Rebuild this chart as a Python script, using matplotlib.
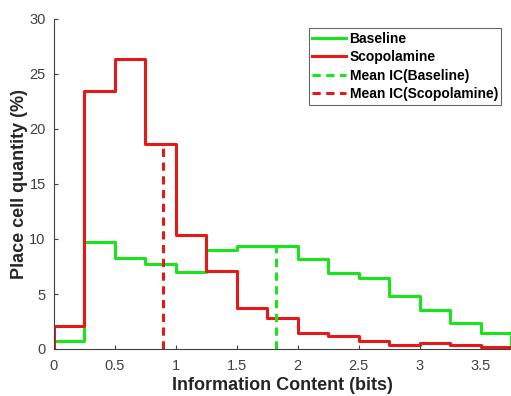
import numpy as np
import matplotlib.pyplot as plt

# bin edges for information content (bits), 0.25 wide
bin_edges = [0, 0.25, 0.5, 0.75, 1.0, 1.25, 1.5, 1.75, 2.0, 2.25, 2.5, 2.75, 3.0, 3.25, 3.5, 3.75]

# percentage of place cells per bin
baseline = [0.73, 9.7, 8.3, 7.76, 6.97, 8.97, 9.33, 9.33, 8.2, 6.88, 6.5, 4.8, 3.55, 2.33, 1.42]
scopolamine = [2.1, 23.45, 26.4, 18.6, 10.36, 7.12, 3.76, 2.85, 1.42, 1.18, 0.76, 0.36, 0.55, 0.33, 0.15]

# mean information content per condition
mean_baseline = 1.82
mean_scopolamine = 0.895

green = '#19e619'
red = '#e61919'
dash = (0, (2.7, 1.8))

plt.rcParams['font.family'] = ['Liberation Sans', 'DejaVu Sans']

fig = plt.figure(figsize=(5.11, 3.96), dpi=100)
ax = fig.add_axes([54 / 511, 1 - 349 / 396, 457 / 511, 330 / 396])


def step_outline(edges, vals):
    xs = [edges[0]]
    ys = [0]
    for i, v in enumerate(vals):
        xs += [edges[i], edges[i + 1]]
        ys += [v, v]
    xs.append(edges[-1])
    ys.append(0)
    return xs, ys


def height_at(edges, vals, x):
    i = np.searchsorted(edges, x) - 1
    return vals[i]


bx, by = step_outline(bin_edges, baseline)
sx, sy = step_outline(bin_edges, scopolamine)
ax.plot(bx, by, color=green, lw=2.2, label='Baseline')
ax.plot(sx, sy, color=red, lw=2.2, label='Scopolamine')
ax.plot([mean_baseline, mean_baseline], [0, height_at(bin_edges, baseline, mean_baseline)],
        color=green, lw=2.2, ls=dash, label='Mean IC(Baseline)')
ax.plot([mean_scopolamine, mean_scopolamine], [0, height_at(bin_edges, scopolamine, mean_scopolamine)],
        color=red, lw=2.2, ls=dash, label='Mean IC(Scopolamine)')

ax.set_xlim(0, 3.75)
ax.set_ylim(0, 30)
ax.set_xticks([0, 0.5, 1, 1.5, 2, 2.5, 3, 3.5])
ax.set_xticklabels(['0', '0.5', '1', '1.5', '2', '2.5', '3', '3.5'])
ax.set_yticks([0, 5, 10, 15, 20, 25, 30])
ax.tick_params(direction='in', length=3, width=0.8, colors='#404040', labelsize=10.5)
ax.tick_params(axis='x', pad=7)
ax.tick_params(axis='y', pad=6)
ax.spines['top'].set_visible(False)
ax.spines['right'].set_visible(False)
for s in ['left', 'bottom']:
    ax.spines[s].set_color('#404040')
    ax.spines[s].set_linewidth(0.8)

ax.set_xlabel('Information Content (bits)', fontsize=13, fontweight='bold', color='#262626', labelpad=3)
ax.set_ylabel('Place cell quantity (%)', fontsize=13, fontweight='bold', color='#262626', labelpad=1)

leg = ax.legend(loc='upper right', bbox_to_anchor=(0.985, 0.98), prop={'weight': 'bold', 'size': 10},
                frameon=True, fancybox=False, edgecolor='#404040', handlelength=2.45,
                handletextpad=0.25, labelspacing=0.32, borderpad=0.25, borderaxespad=0.2)
leg.get_frame().set_linewidth(0.8)

fig.savefig('out.png', dpi=100)
